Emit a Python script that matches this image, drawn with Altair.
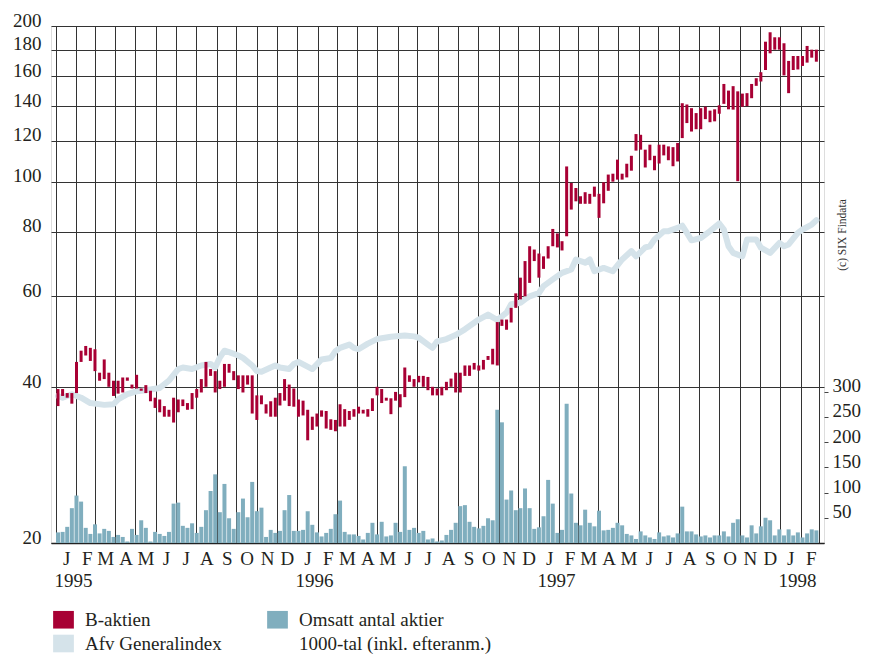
import datetime as dt
import altair as alt
import pandas as pd

# ---------------- data ----------------
# weekly high / low of the B share, week 0 = first week of Jan 1995
HIGH = [
    39.7, 39.7, 39.0, 39.0, 44.8, 47.1, 48.1, 47.7, 47.4, 42.7,
    45.3, 42.7, 41.2, 41.2, 41.8, 41.8, 40.5, 42.3, 39.8, 40.4,
    39.4, 38.2, 37.9, 36.8, 36.2, 38.2, 37.9, 37.9, 37.3, 39.0,
    39.7, 41.5, 44.8, 43.4, 43.0, 41.2, 44.4, 44.4, 43.0, 42.2,
    42.2, 42.2, 42.2, 38.6, 38.6, 37.1, 37.6, 38.2, 39.0, 41.5,
    40.5, 39.8, 37.9, 37.7, 36.2, 35.1, 35.6, 36.1, 36.0, 34.7,
    34.6, 37.1, 36.3, 36.0, 36.3, 36.7, 36.2, 36.3, 38.1, 40.1,
    39.7, 38.2, 38.1, 39.2, 38.8, 43.7, 42.2, 41.5, 42.1, 42.1,
    41.9, 40.1, 39.8, 40.1, 41.0, 41.6, 42.7, 42.7, 44.1, 44.1,
    44.6, 44.1, 45.2, 46.0, 47.5, 53.5, 54.1, 54.1, 57.0, 60.8,
    65.2, 70.2, 75.0, 73.9, 72.6, 71.7, 75.0, 81.0, 79.4, 76.7,
    107.0, 99.4, 97.2, 93.7, 95.4, 94.7, 97.8, 94.7, 99.7, 103.2,
    103.6, 110.3, 103.6, 108.3, 112.2, 123.6, 123.2, 115.3, 117.9, 112.2,
    117.9, 117.9, 117.0, 116.6, 118.8, 141.8, 141.0, 138.7, 135.7, 138.7,
    139.6, 137.2, 138.0, 140.5, 154.5, 150.0, 153.0, 149.5, 148.0, 148.3,
    154.5, 158.5, 162.8, 186.5, 194.5, 190.2, 190.2, 185.2, 171.2, 175.0,
    175.0, 175.0, 183.0, 180.0, 180.0,
]
LOW = [
    36.8, 38.5, 38.2, 37.2, 39.0, 44.8, 46.1, 45.0, 43.0, 41.2,
    41.5, 40.1, 38.5, 38.9, 39.1, 41.2, 39.8, 39.8, 39.4, 39.0,
    37.6, 36.5, 35.8, 35.1, 35.1, 34.2, 35.8, 36.8, 36.2, 36.3,
    38.2, 39.1, 40.1, 42.1, 39.1, 39.7, 40.1, 42.7, 41.3, 39.7,
    39.1, 40.5, 35.6, 34.6, 37.1, 35.6, 35.1, 35.1, 36.9, 37.7,
    36.8, 36.7, 35.1, 35.3, 31.6, 33.1, 33.6, 35.1, 33.3, 33.1,
    32.9, 33.6, 33.6, 34.6, 35.1, 35.6, 35.6, 35.1, 36.0, 38.6,
    37.3, 37.7, 35.5, 37.7, 36.6, 38.3, 41.0, 40.1, 40.9, 40.1,
    39.5, 38.6, 38.6, 38.6, 39.5, 40.1, 39.1, 39.1, 42.1, 42.1,
    43.3, 43.1, 43.3, 45.2, 44.3, 44.1, 52.6, 51.7, 53.4, 57.0,
    59.2, 60.0, 63.7, 70.2, 65.2, 67.8, 71.0, 75.0, 74.6, 73.6,
    78.4, 88.3, 91.6, 90.6, 90.6, 90.6, 93.5, 85.1, 90.8, 96.0,
    100.0, 100.9, 100.9, 101.9, 105.0, 114.8, 115.3, 106.5, 110.0, 105.2,
    108.4, 112.4, 110.0, 107.1, 109.4, 121.4, 129.8, 125.0, 126.3, 126.3,
    132.1, 130.3, 130.8, 135.3, 141.4, 138.0, 137.8, 100.2, 139.6, 140.0,
    145.0, 153.2, 156.2, 164.4, 177.1, 180.0, 180.0, 160.5, 148.3, 164.4,
    164.8, 167.4, 169.9, 173.7, 170.6,
]
# weekly turnover, 1000 shares
VOLUME = [
    21, 22, 32, 69, 94, 82, 30, 18, 37, 19,
    28, 24, 12, 16, 12, 3, 28, 16, 45, 30,
    3, 22, 18, 14, 22, 78, 80, 34, 30, 39,
    20, 32, 65, 103, 136, 61, 117, 49, 28, 61,
    88, 51, 121, 63, 70, 12, 26, 20, 24, 65,
    95, 24, 24, 26, 63, 36, 21, 13, 20, 28,
    57, 84, 22, 17, 17, 14, 7, 20, 40, 17,
    42, 13, 15, 40, 22, 152, 26, 30, 20, 24,
    7, 9, 3, 5, 16, 26, 40, 73, 75, 42,
    32, 29, 34, 49, 45, 264, 239, 86, 104, 65,
    69, 108, 69, 28, 31, 53, 125, 78, 20, 26,
    276, 98, 40, 35, 66, 40, 33, 64, 25, 26,
    30, 40, 35, 18, 15, 8, 23, 15, 11, 8,
    21, 13, 15, 11, 19, 72, 23, 23, 17, 13,
    15, 11, 15, 15, 23, 13, 40, 47, 15, 11,
    35, 19, 33, 50, 45, 15, 27, 15, 27, 15,
    21, 11, 19, 27, 25,
]
# Affärsvärldens generalindex (rescaled), sampled at these weeks
INDEX_WEEK = [
    0, 1, 3, 5, 7, 10, 12, 13, 15, 17, 19, 22, 24, 26, 27, 29, 31, 33, 34, 35,
    36, 37, 39, 40, 42, 43, 44, 46, 47, 48, 50, 51, 52,
    55, 57, 59, 60, 61, 63, 64, 65, 67, 69, 72, 75, 77, 78, 80, 81, 82, 84, 86, 88,
    91, 93, 95, 97, 98, 100, 101, 102, 104, 105, 107, 109, 111, 112, 114, 115, 116,
    118, 120, 122, 124, 125, 127, 128, 129, 131, 132, 134, 135, 136, 137, 139, 141,
    143, 144, 145, 146, 148, 149, 151, 152, 154, 156, 157, 158, 160, 161, 163, 164,
]
INDEX_VALUE = [
    38.5, 38.2, 38.8, 38.2, 37.3, 37.0, 37.1, 37.9, 38.8, 39.3, 39.5, 39.9, 41.2, 43.4,
    43.7, 43.4, 44.1, 44.4, 43.7, 45.7,
    47.1, 46.8, 46.1, 45.6, 44.1, 43.0, 42.9, 43.7, 44.1, 43.7, 43.4, 44.4, 44.8,
    43.4, 45.3, 45.6, 47.0, 47.7, 48.4, 47.7, 47.4, 48.6, 49.6, 50.1, 50.4, 50.2, 49.9,
    48.4, 47.7, 49.1, 49.6, 50.5, 51.8,
    54.1, 55.3, 54.0, 55.8, 57.9, 58.3, 59.2, 60.0, 60.9, 62.8, 64.7, 66.6, 67.6, 70.7,
    69.7, 70.7, 67.1,
    68.1, 67.1, 70.7, 73.4, 71.7, 74.6, 75.0, 77.3, 80.2, 80.2, 81.4, 82.2, 79.6, 77.0,
    77.8, 80.2,
    83.0, 80.8, 75.0, 72.8, 71.7, 77.3, 77.3, 74.5, 72.8, 76.1, 75.0, 75.6, 79.6, 80.8,
    82.6, 84.2,
]

MONTH_LETTERS = ["J", "F", "M", "A", "M", "J", "J", "A", "S", "O", "N", "D"]
PRICE_TICKS = [20, 40, 60, 80, 100, 120, 140, 160, 180, 200]
VOLUME_TICKS = [50, 100, 150, 200, 250, 300]
# legend entries, listed column by column
LEGEND_ITEMS = ["B-aktien", "Afv Generalindex", "Omsatt antal aktier",
                "1000-tal (inkl. efteranm.)"]
COPYRIGHT = "(c) SIX Findata"

# ---------------- styling ----------------
RED = "#A80034"
TEAL = "#80AEBE"
LIGHT = "#D5E3EA"
INK = "#231F20"
GRID = "#333333"
FONT = "Liberation Serif"
LEGEND_COLORS = [RED, LIGHT, TEAL, "#FFFFFF"]

FIRST_WEEK = dt.date(1995, 1, 4)
START = dt.date(1995, 1, 1)
END = dt.date(1998, 3, 1)


def week_date(i):
    return (FIRST_WEEK + dt.timedelta(days=7 * i)).isoformat()


def ms(d, hours=0):
    t = dt.datetime(d.year, d.month, d.day, tzinfo=dt.timezone.utc) + dt.timedelta(hours=hours)
    return int(t.timestamp() * 1000)


month_starts = []
y, m = 1995, 1
while (y, m) <= (1998, 3):
    month_starts.append(dt.date(y, m, 1))
    m += 1
    if m == 13:
        y, m = y + 1, 1
mid_months = [ms(d, hours=(15 * 24 + 12)) for d in month_starts[:-1]]

price_df = pd.DataFrame({
    "date": [week_date(i) for i in range(len(HIGH))],
    "high": HIGH,
    "low": LOW,
})
vol_df = pd.DataFrame({
    "date": [week_date(i) for i in range(len(VOLUME))],
    "volume": VOLUME,
    "series": ["Omsatt antal aktier"] * len(VOLUME),
})
idx_df = pd.DataFrame({
    "date": [week_date(i) for i in INDEX_WEEK],
    "value": INDEX_VALUE,
})

xscale = alt.Scale(type="utc", domain=[ms(START), ms(END)])
yscale = alt.Scale(type="log", domain=[20, 200], nice=False)

letters_js = "[" + ",".join("'%s'" % s for s in MONTH_LETTERS) + "]"

year_axis = alt.Axis(
    orient="bottom", values=[ms(d) for d in month_starts], grid=True,
    gridColor=GRID, gridWidth=1, gridOpacity=1, ticks=False,
    domain=True, domainColor="#222222", domainWidth=1.5,
    labelExpr="utcmonth(datum.value) == 0 ? '' + utcyear(datum.value) : ''",
    labelAlign="left", labelBaseline="top", labelFont=FONT, labelFontSize=19,
    labelColor=INK, labelPadding=28, labelOffset=-2, labelOverlap=False,
    labelFlush=False, labelBound=False, title=None,
)
month_axis = alt.Axis(
    orient="bottom", values=mid_months, grid=False, ticks=False, domain=False,
    labelExpr=letters_js + "[utcmonth(datum.value)]",
    labelAlign="center", labelBaseline="top", labelFont=FONT, labelFontSize=19,
    labelColor=INK, labelPadding=6, labelOverlap=False, labelFlush=False, title=None,
)
left_axis = alt.Axis(
    orient="left", values=PRICE_TICKS, grid=True, gridColor=GRID, gridWidth=1,
    gridOpacity=1, ticks=False, domain=False, format="d",
    labelFont=FONT, labelFontSize=19, labelColor=INK, labelBaseline="alphabetic",
    labelPadding=10, labelOverlap=False, labelFlush=False, title=None,
)
right_axis = alt.Axis(
    orient="right", values=VOLUME_TICKS, grid=False, domain=False, ticks=True,
    tickSize=4, tickColor="#444444", tickWidth=1, format="d",
    labelFont=FONT, labelFontSize=19, labelColor=INK, labelBaseline="alphabetic",
    labelAlign="left", labelPadding=4, labelOverlap=False, labelFlush=False, title=None,
)

legend = alt.Legend(
    orient="none", legendX=2, legendY=583, columns=2, title=None,
    symbolType="M-1,-0.85H1V0.85H-1Z", symbolSize=430, symbolStrokeWidth=0,
    symbolOpacity=1, labelFont=FONT, labelFontSize=19, labelColor=INK,
    labelOffset=11, columnPadding=45, rowPadding=3, labelLimit=400, padding=0,
)

volume = alt.Chart(vol_df).mark_bar(size=4).encode(
    x=alt.X("date:T", scale=xscale, axis=month_axis),
    y=alt.Y("volume:Q", scale=alt.Scale(domain=[0, 1024], nice=False), axis=right_axis),
    color=alt.Color("series:N", scale=alt.Scale(domain=LEGEND_ITEMS, range=LEGEND_COLORS),
                    legend=legend),
)

index_line = alt.Chart(idx_df).mark_line(
    color=LIGHT, strokeWidth=6, strokeJoin="round", strokeCap="round"
).encode(
    x=alt.X("date:T", scale=xscale, axis=year_axis),
    y=alt.Y("value:Q", scale=yscale, axis=left_axis),
)

price = alt.Chart(price_df).mark_rule(color=RED, strokeWidth=3).encode(
    x=alt.X("date:T", scale=xscale, axis=None),
    y=alt.Y("high:Q", scale=yscale, axis=None),
    y2="low:Q",
)

credit = alt.Chart(pd.DataFrame({"t": [COPYRIGHT]})).mark_text(
    angle=270, font=FONT, fontSize=11.5, color="#333333", align="center", baseline="middle"
).encode(text="t:N", x=alt.value(792), y=alt.value(209))

chart = alt.layer(volume, index_line, price, credit).resolve_scale(
    y="independent"
).resolve_axis(
    x="independent", y="independent"
).properties(
    width=773, height=517,
    padding={"left": 43, "top": 18, "right": 38, "bottom": 112},
    autosize=alt.AutoSizeParams(type="none"),
).configure_view(stroke=None).configure(background="white")

chart.save("out.html", embed_options={"renderer": "svg", "actions": False})
